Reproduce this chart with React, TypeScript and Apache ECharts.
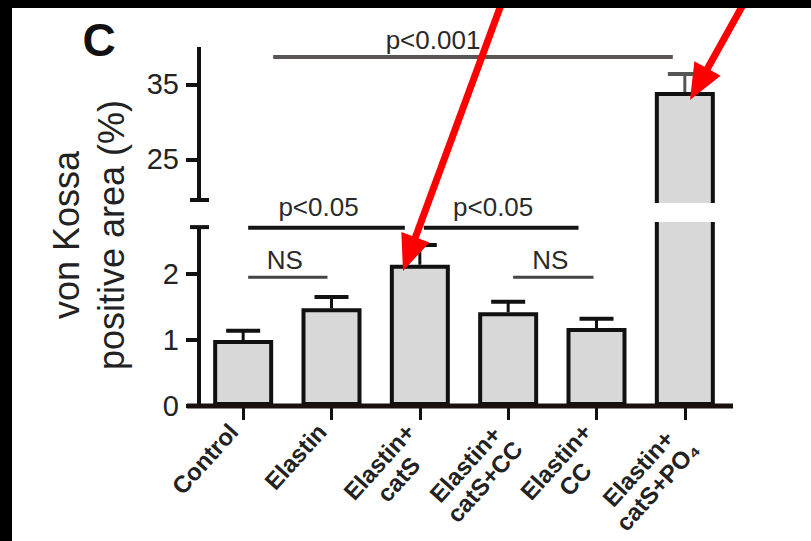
import React, { useEffect, useRef } from 'react';
import * as echarts from 'echarts';

// ---- data ----
const categories = ['Control', 'Elastin', 'Elastin+\ncatS', 'Elastin+\ncatS+CC', 'Elastin+\nCC', 'Elastin+\ncatS+PO₄'];
const means = [1.0, 1.48, 2.14, 1.42, 1.18, 34.0];
const sems = [0.14, 0.17, 0.3, 0.16, 0.14, 2.4];
const lowerTicks = [0, 1, 2];
const upperTicks = [25, 35];

// axis break settings
const LOWER_MIN = 0;
const LOWER_MAX = 2.818;
const UPPER_MIN = 18.93;
const UPPER_MAX = 40;
const LOWER_AXIS_END = 2.71;
const UPPER_AXIS_START = 19.6;

const yTitle = 'von Kossa\npositive area (%)';
const panelLabel = 'C';

const brackets = [
  { from: 0, to: 5, label: 'p<0.001', panel: 0, level: 38.67, x1: 30, x2: -12, dx: -40, dy: -17, color: '#5a5555', width: 4 },
  { from: 0, to: 2, label: 'p<0.05', panel: 1, level: 2.7, x1: 5, x2: -15, dx: -8, dy: -21, color: '#151515', width: 4 },
  { from: 2, to: 4, label: 'p<0.05', panel: 1, level: 2.7, x1: 4, x2: -18, dx: -8, dy: -21, color: '#151515', width: 4 },
  { from: 0, to: 1, label: 'NS', panel: 1, level: 1.95, x1: 5, x2: -4, dx: -3, dy: -17, color: '#444444', width: 3 },
  { from: 3, to: 4, label: 'NS', panel: 1, level: 1.95, x1: 5, x2: -3, dx: -3, dy: -17, color: '#444444', width: 3 },
];

const arrows = [
  { from: [505, -6], to: [403, 271] },
  { from: [749, -6], to: [690, 100] },
];

const FONT = '"Liberation Sans", Arial, Helvetica, sans-serif';
const GRID_LEFT = 199;
const GRID_WIDTH = 530;
const BAR_W = 60;

export default function App() {
  const ref = useRef<HTMLDivElement>(null);
  useEffect(() => {
    if (!ref.current) return;
    const chart = echarts.init(ref.current, null, { renderer: 'svg' });

    const errRender = (color: string) => (params: any, api: any) => {
      const base = api.coord([api.value(0), api.value(1)]);
      const top = api.coord([api.value(0), api.value(2)]);
      return {
        type: 'group',
        children: [
          { type: 'line', shape: { x1: top[0], y1: base[1], x2: top[0], y2: top[1] }, style: { stroke: color, lineWidth: 3 } },
          { type: 'line', shape: { x1: top[0] - 17, y1: top[1], x2: top[0] + 17, y2: top[1] }, style: { stroke: color, lineWidth: 4 } },
        ],
      };
    };

    const errData = means.map((m, i) => [i, m, m + sems[i]]);
    const barStyle = { color: '#d8d8d8', borderColor: '#111', borderWidth: 4 };
    const tickStyle = { color: '#111', width: 4 };
    const labelFont = { fontSize: 24, fontWeight: 'bold', fontFamily: FONT, color: '#222', lineHeight: 26 };

    chart.setOption({
      animation: false,
      backgroundColor: '#ffffff',
      grid: [
        { left: GRID_LEFT, width: GRID_WIDTH, top: 47, height: 158 },
        { left: GRID_LEFT, width: GRID_WIDTH, top: 220, height: 186 },
      ],
      xAxis: [
        { gridIndex: 0, type: 'category', data: categories, show: false },
        {
          gridIndex: 1,
          type: 'category',
          data: categories,
          axisLine: { show: false },
          axisTick: { show: true, alignWithLabel: true, length: 14, lineStyle: { color: '#111', width: 3 } },
          axisLabel: {
            rotate: 48,
            align: 'right',
            verticalAlign: 'middle',
            margin: 30,
            interval: 0,
            ...labelFont,
            formatter: (v: string) => {
              const lines = v.split('\n');
              if (lines.length < 2) lines.push(' ');
              return lines.map((s) => `{c|${s}}`).join('\n');
            },
            rich: { c: { align: 'center', ...labelFont } },
          },
        },
      ],
      yAxis: [
        {
          gridIndex: 0,
          type: 'value',
          min: UPPER_MIN,
          max: UPPER_MAX,
          splitLine: { show: false },
          axisLine: { show: false },
          axisTick: { show: true, customValues: upperTicks, length: 13, lineStyle: tickStyle },
          axisLabel: { customValues: upperTicks, fontSize: 29, margin: 20, color: '#222', fontFamily: FONT },
        },
        {
          gridIndex: 1,
          type: 'value',
          min: LOWER_MIN,
          max: LOWER_MAX,
          splitLine: { show: false },
          axisLine: { show: false },
          axisTick: { show: true, customValues: lowerTicks, length: 13, lineStyle: tickStyle },
          axisLabel: { customValues: lowerTicks, fontSize: 29, margin: 20, color: '#222', fontFamily: FONT },
        },
      ],
      series: [
        {
          type: 'bar',
          xAxisIndex: 0,
          yAxisIndex: 0,
          data: means.map((v) => (v > UPPER_MIN ? v : '-')),
          barWidth: BAR_W,
          clip: true,
          itemStyle: barStyle,
        },
        {
          type: 'bar',
          xAxisIndex: 1,
          yAxisIndex: 1,
          data: means,
          barWidth: BAR_W,
          clip: true,
          itemStyle: barStyle,
        },
        {
          type: 'custom',
          xAxisIndex: 1,
          yAxisIndex: 1,
          z: 3,
          data: errData.filter((d) => d[2] <= LOWER_MAX),
          renderItem: errRender('#111'),
        },
        {
          type: 'custom',
          xAxisIndex: 0,
          yAxisIndex: 0,
          z: 3,
          data: errData.filter((d) => d[1] > UPPER_MIN),
          renderItem: errRender('#555'),
        },
      ],
    });

    const px = (i: number) => chart.convertToPixel({ xAxisIndex: 1 }, i) as number;
    const py = (panel: number, v: number) => chart.convertToPixel({ yAxisIndex: panel }, v) as number;

    const g: any[] = [];
    // frame bands
    g.push({ type: 'rect', shape: { x: 0, y: 0, width: 811, height: 8 }, style: { fill: '#000' }, z: 200 });
    g.push({ type: 'rect', shape: { x: 0, y: 0, width: 12, height: 541 }, style: { fill: '#000' }, z: 200 });

    // broken y axis
    const ax = GRID_LEFT;
    const upTop = py(0, UPPER_MAX);
    const upBot = py(0, UPPER_AXIS_START);
    const loTop = py(1, LOWER_AXIS_END);
    const loBot = py(1, LOWER_MIN);
    const axStyle = { stroke: '#111', lineWidth: 4 };
    g.push({ type: 'line', shape: { x1: ax, y1: upTop, x2: ax, y2: upBot }, style: axStyle, z: 50 });
    g.push({ type: 'line', shape: { x1: ax - 9, y1: upBot, x2: ax + 10, y2: upBot }, style: axStyle, z: 50 });
    g.push({ type: 'line', shape: { x1: ax, y1: loTop, x2: ax, y2: loBot }, style: axStyle, z: 50 });
    g.push({ type: 'line', shape: { x1: ax - 9, y1: loTop, x2: ax + 10, y2: loTop }, style: axStyle, z: 50 });
    // x axis line
    g.push({ type: 'line', shape: { x1: ax - 12, y1: loBot, x2: GRID_LEFT + GRID_WIDTH + 4, y2: loBot }, style: { stroke: '#1a1010', lineWidth: 5 }, z: 50 });

    // gap across broken bars
    means.forEach((m, i) => {
      if (m > LOWER_MAX) {
        const xc = px(i);
        const yTopGap = py(0, UPPER_MIN) - 2;
        const yBotGap = py(1, LOWER_MAX) + 2;
        g.push({ type: 'rect', shape: { x: xc - BAR_W / 2 - 5, y: yTopGap, width: BAR_W + 10, height: yBotGap - yTopGap }, style: { fill: '#fff' }, z: 60 });
      }
    });

    // significance brackets
    brackets.forEach((b) => {
      const x1 = px(b.from) + b.x1;
      const x2 = px(b.to) + b.x2;
      const y = py(b.panel, b.level);
      g.push({ type: 'line', shape: { x1, y1: y, x2, y2: y }, style: { stroke: b.color, lineWidth: b.width }, z: 70 });
      g.push({
        type: 'text',
        x: (x1 + x2) / 2 + b.dx,
        y: y + b.dy,
        style: { text: b.label, font: `26px ${FONT}`, fill: '#2a2a2a', textAlign: 'center', textVerticalAlign: 'middle' },
        z: 70,
      });
    });

    // y title
    g.push({
      type: 'text',
      x: 89,
      y: 235,
      rotation: Math.PI / 2,
      style: { text: yTitle, font: `36px ${FONT}`, lineHeight: 45, fill: '#222', textAlign: 'center', textVerticalAlign: 'middle' },
      z: 70,
    });
    // panel label
    g.push({
      type: 'text',
      x: 99,
      y: 40,
      style: { text: panelLabel, font: `bold 46px ${FONT}`, fill: '#111', textAlign: 'center', textVerticalAlign: 'middle' },
      z: 70,
    });

    // red arrows
    arrows.forEach((a) => {
      const [sx, sy] = a.from;
      const [tx, ty] = a.to;
      const dx = tx - sx;
      const dy = ty - sy;
      const len = Math.hypot(dx, dy);
      const ux = dx / len;
      const uy = dy / len;
      const headL = 36;
      const headW = 15;
      const bx = tx - ux * headL;
      const by = ty - uy * headL;
      const nx = -uy;
      const ny = ux;
      g.push({ type: 'line', shape: { x1: sx, y1: sy, x2: bx + ux * 4, y2: by + uy * 4 }, style: { stroke: '#ff0000', lineWidth: 7 }, z: 150 });
      g.push({
        type: 'polygon',
        shape: { points: [[tx, ty], [bx + nx * headW, by + ny * headW], [bx - nx * headW, by - ny * headW]] },
        style: { fill: '#ff0000' },
        z: 150,
      });
    });

    chart.setOption({ graphic: { elements: g } });

    return () => chart.dispose();
  }, []);

  return <div ref={ref} style={{ position: 'absolute', left: 0, top: 0, width: 811, height: 541 }} />;
}
